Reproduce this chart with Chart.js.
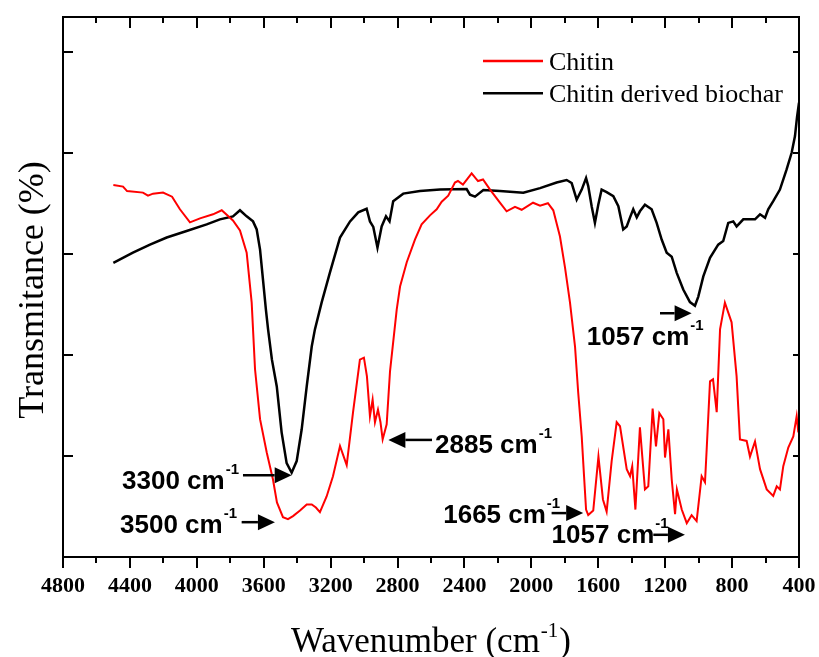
<!DOCTYPE html>
<html><head><meta charset="utf-8">
<script src="https://cdn.jsdelivr.net/npm/chart.js@4/dist/chart.umd.min.js"></script>
<style>html,body{margin:0;padding:0;background:#fff;}#wrap{width:819px;height:657px;}</style>
</head><body><div id="wrap"><canvas id="c" width="819" height="657"></canvas></div>
<script>
// ---- data ----
const seriesNames = ['Chitin', 'Chitin derived biochar'];
const xTickValues = [4800, 4400, 4000, 3600, 3200, 2800, 2400, 2000, 1600, 1200, 800, 400];
const xTitle = 'Wavenumber (cm';
const yTitle = 'Transmitance (%)';

const wnChitin = [4499,4441,4417,4322,4292,4262,4202,4148,4101,4041,3981,3903,3851,3784,3742,3702,3672,3652,3622,3582,3545,3521,3485,3455,3425,3383,3343,3313,3288,3264,3224,3186,3144,3126,3104,3066,3025,3001,2983,2965,2949,2935,2917,2902,2889,2865,2845,2805,2785,2745,2696,2656,2606,2566,2536,2497,2457,2439,2409,2357,2319,2289,2247,2188,2148,2098,2058,1990,1948,1901,1869,1829,1799,1769,1739,1720,1699,1685,1673,1660,1630,1599,1572,1550,1520,1490,1470,1430,1410,1397,1378,1351,1321,1301,1275,1255,1235,1211,1201,1181,1161,1141,1130,1101,1071,1042,1012,982,962,952,932,914,892,872,843,803,773,753,713,693,663,633,593,554,533,514,494,464,434,414,404];
const tChitin = [73.7,73.4,72.5,72.2,71.6,72.0,72.2,71.4,68.9,66.3,67.1,67.9,68.7,66.7,64.7,60.3,50.4,37.2,27.3,20.7,15.4,10.8,7.9,7.5,8.1,9.2,10.4,10.4,9.8,8.9,12.0,16.0,22.0,20.3,18.2,28.7,39.1,39.5,35.8,27.9,31.2,26.7,29.2,26.7,23.3,26.3,36.8,49.0,53.6,58.4,62.9,65.9,67.7,68.9,70.4,71.6,74.2,74.5,73.8,76.0,74.5,74.8,72.8,70.2,68.5,69.4,68.8,70.2,69.6,70.1,68.7,63.5,57.4,50.4,41.7,32.6,23.9,16.0,9.4,8.3,9.2,19.9,11.4,9.0,19.0,26.7,25.9,17.4,16.0,18.0,9.4,25.7,13.4,14.0,29.4,21.9,28.5,27.3,19.7,25.3,15.4,8.5,13.4,9.4,6.7,8.3,7.1,16.0,14.8,21.3,34.8,35.2,28.7,45.1,50.4,46.5,35.8,23.3,23.0,19.9,22.9,17.4,13.4,12.1,14.0,13.4,18.0,21.7,23.9,27.9,24.7];

const wnBiochar = [4499,4382,4280,4180,4061,3941,3862,3784,3742,3702,3664,3642,3622,3604,3587,3574,3551,3522,3493,3463,3433,3403,3373,3343,3313,3294,3254,3204,3144,3084,3035,2985,2965,2945,2920,2895,2869,2848,2826,2766,2666,2546,2387,2367,2337,2287,2188,2048,1948,1849,1789,1759,1729,1699,1673,1660,1639,1620,1600,1580,1550,1510,1480,1451,1430,1410,1391,1370,1351,1321,1281,1251,1221,1191,1161,1131,1092,1052,1022,1002,972,932,883,853,823,793,773,733,663,633,603,584,554,514,474,444,424,412,400];
const tBiochar = [58.3,60.3,61.9,63.3,64.6,65.9,66.9,67.5,68.7,67.5,66.5,64.9,60.9,54.8,49.0,45.1,39.1,33.8,24.7,18.6,16.7,19.0,25.3,33.8,41.7,45.1,50.4,56.4,63.3,66.5,68.3,69.0,66.5,65.4,61.3,65.5,67.5,66.5,70.5,72.0,72.5,72.8,72.9,71.8,71.4,72.7,72.5,72.2,73.1,74.2,74.7,74.1,70.8,72.8,75.1,73.5,69.4,66.2,69.8,72.8,72.3,71.5,69.5,64.9,65.5,67.3,68.9,67.3,68.5,69.8,68.9,66.2,62.9,60.3,59.5,56.3,53.0,50.5,49.8,51.6,55.6,59.3,61.9,62.6,66.2,66.5,65.5,66.9,66.9,67.9,67.2,68.9,70.5,72.8,76.8,80.1,83.4,87.1,90.0];

// peak labels (text) and where they sit, in data units (wavenumber, transmittance)
const peakLabels = ['3300', '3500', '2885', '1665', '1057', '1057'];
const peakTextAt = [[4447,13.5],[4459,4.8],[2576,20.6],[2527,6.8],[1879,2.7],[1669,42.0]];
const peakArrowFrom = [[3724,16.2],[3732,6.9],[2594,23.2],[1879,8.7],[1271,4.4],[1231,48.3]];
const peakArrowTo = [[3433,16.2],[3533,6.9],[2855,23.2],[1690,8.7],[1082,4.4],[1042,48.3]];

const colors = ['#ff0000', '#000000'];

function pts(xs, ys) { return xs.map((x, i) => ({x: x, y: ys[i]})); }

const framePlugin = {
  id: 'frame',
  afterDraw(chart) {
    const ctx = chart.ctx, a = chart.chartArea;
    const xs = chart.scales.x, ys = chart.scales.y;
    ctx.save();
    ctx.strokeStyle = '#000';
    ctx.lineWidth = 2;
    ctx.strokeRect(a.left, a.top, a.right - a.left, a.bottom - a.top);
    // x ticks (major every 400, minor every 200)
    ctx.lineWidth = 2;
    ctx.beginPath();
    for (let v = xs.min; v <= xs.max; v += 200) {
      const px = Math.round(xs.getPixelForValue(v));
      const major = (v % 400) === 0;
      ctx.moveTo(px, a.bottom); ctx.lineTo(px, a.bottom + (major ? 11 : 6));
      ctx.moveTo(px, a.top); ctx.lineTo(px, a.top + (major ? 11 : 6));
    }
    // y ticks
    ys.ticks.forEach(t => {
      const py = Math.round(ys.getPixelForValue(t.value));
      ctx.moveTo(a.left, py); ctx.lineTo(a.left + 10, py);
      ctx.moveTo(a.right, py); ctx.lineTo(a.right - 6, py);
    });
    ctx.stroke();

    // legend
    ctx.font = '26px "Liberation Serif", "Times New Roman", serif';
    ctx.textBaseline = 'alphabetic';
    ctx.textAlign = 'left';
    chart.data.datasets.forEach((ds, i) => {
      const ly = 61 + i * 32.3;
      ctx.strokeStyle = ds.borderColor;
      ctx.lineWidth = 2.5;
      ctx.beginPath(); ctx.moveTo(483, ly); ctx.lineTo(543, ly); ctx.stroke();
      ctx.fillStyle = '#000';
      ctx.fillText(ds.label, 549, ly + 8.5);
    });

    // peak annotations
    ctx.fillStyle = '#000';
    ctx.strokeStyle = '#000';
    peakLabels.forEach((lab, i) => {
      const tx = xs.getPixelForValue(peakTextAt[i][0]);
      const ty = ys.getPixelForValue(peakTextAt[i][1]);
      ctx.font = 'bold 26px "Liberation Sans", Arial, sans-serif';
      const main = lab + ' cm';
      ctx.fillText(main, tx, ty);
      const w = ctx.measureText(main).width;
      ctx.font = 'bold 15px "Liberation Sans", Arial, sans-serif';
      ctx.fillText('-1', tx + w + 1, ty - 15);
      const x1 = xs.getPixelForValue(peakArrowFrom[i][0]);
      const y1 = ys.getPixelForValue(peakArrowFrom[i][1]);
      const x2 = xs.getPixelForValue(peakArrowTo[i][0]);
      const y2 = ys.getPixelForValue(peakArrowTo[i][1]);
      const dir = x2 > x1 ? 1 : -1;
      const head = 17;
      ctx.lineWidth = 2.5;
      ctx.beginPath(); ctx.moveTo(x1, y1); ctx.lineTo(x2 - dir * head, y2); ctx.stroke();
      ctx.beginPath();
      ctx.moveTo(x2, y2);
      ctx.lineTo(x2 - dir * head, y2 - 8);
      ctx.lineTo(x2 - dir * head, y2 + 8);
      ctx.closePath(); ctx.fill();
    });

    // axis titles
    ctx.font = '35px "Liberation Serif", "Times New Roman", serif';
    const wMain = ctx.measureText(xTitle).width;
    ctx.font = '21px "Liberation Serif", "Times New Roman", serif';
    const wSup = ctx.measureText('-1').width;
    ctx.font = '35px "Liberation Serif", "Times New Roman", serif';
    const wClose = ctx.measureText(')').width;
    const total = wMain + wSup + wClose + 2;
    const cx = (a.left + a.right) / 2;
    let sx = cx - total / 2;
    const by = 652;
    ctx.fillText(xTitle, sx, by);
    ctx.font = '21px "Liberation Serif", "Times New Roman", serif';
    ctx.fillText('-1', sx + wMain + 1, by - 15);
    ctx.font = '35px "Liberation Serif", "Times New Roman", serif';
    ctx.fillText(')', sx + wMain + wSup + 2, by);

    ctx.translate(43, (a.top + a.bottom) / 2 + 3);
    ctx.rotate(-Math.PI / 2);
    ctx.textAlign = 'center';
    ctx.font = '36px "Liberation Serif", "Times New Roman", serif';
    ctx.fillText(yTitle, 0, 0);
    ctx.restore();
  }
};

new Chart(document.getElementById('c'), {
  type: 'line',
  data: {
    datasets: [
      {label: seriesNames[0], data: pts(wnChitin, tChitin), borderColor: colors[0], borderWidth: 2, pointRadius: 0, tension: 0, fill: false},
      {label: seriesNames[1], data: pts(wnBiochar, tBiochar), borderColor: colors[1], borderWidth: 2.5, pointRadius: 0, tension: 0, fill: false}
    ]
  },
  options: {
    responsive: false,
    animation: false,
    layout: {padding: {top: 17, right: 20, left: 0, bottom: 0}},
    plugins: {legend: {display: false}, tooltip: {enabled: false}},
    scales: {
      x: {
        type: 'linear', reverse: true, min: 400, max: 4800,
        grid: {display: false, drawTicks: false},
        border: {display: false},
        afterBuildTicks: s => { s.ticks = xTickValues.map(v => ({value: v})); },
        afterFit: s => { s.height = 100; s.paddingLeft = 0; s.paddingRight = 0; },
        ticks: {
          autoSkip: false, maxRotation: 0, padding: 16, color: '#000',
          callback: v => String(v),
          font: {family: '"Liberation Serif", "Times New Roman", serif', weight: 'bold', size: 22}
        }
      },
      y: {
        type: 'linear', min: 0, max: 107,
        grid: {display: false, drawTicks: false},
        border: {display: false},
        ticks: {display: false, stepSize: 20},
        afterFit: s => { s.width = 63; }
      }
    }
  },
  plugins: [framePlugin]
});
</script>
</body></html>
